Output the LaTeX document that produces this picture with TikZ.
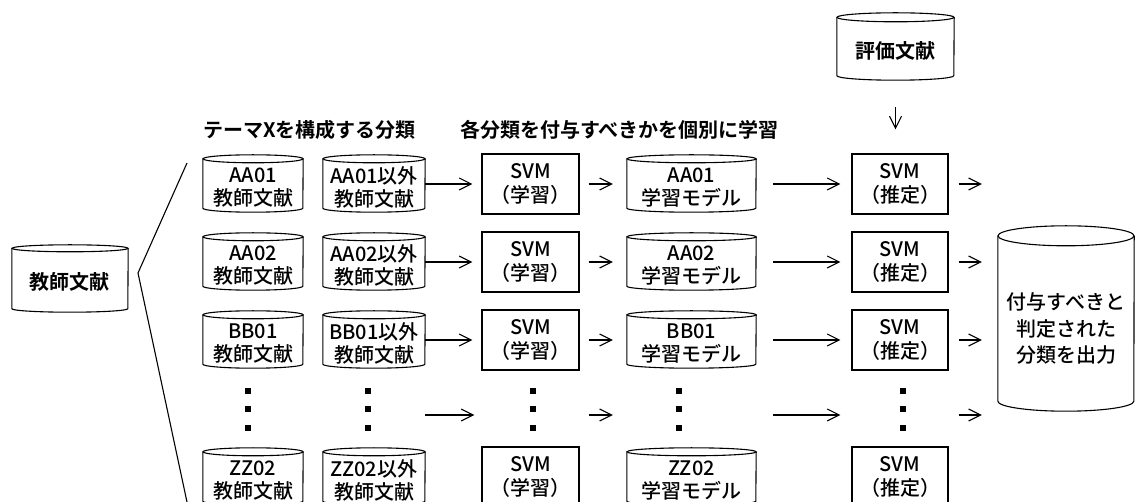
\documentclass[tikz,border=0pt]{standalone}
\usepackage{fontspec}
\setmainfont{Noto Sans CJK JP}[UprightFont=* Medium, BoldFont=* Bold]
\usetikzlibrary{arrows.meta,calc}
\newcommand\cylout[3]{%
  \draw[line width=1.1pt] ([yshift=#3]#1.north west) -- ([yshift=#3]#1.south west)
    arc[start angle=180,end angle=360,x radius=#2,y radius=#3]
    -- ([yshift=#3]#1.north east);
  \draw[line width=1.1pt] ([yshift=#3]#1.north) ellipse[x radius=#2,y radius=#3];
}
\begin{document}
\begin{tikzpicture}[x=1pt,y=-1pt,
  txt/.style={font=\fontsize{20}{23.5}\selectfont, align=center, inner sep=0pt},
  ttl/.style={font=\bfseries\fontsize{20}{23.5}\selectfont, inner sep=0pt, anchor=west},
  box/.style={txt, draw, line width=1.1pt, minimum width=97pt, minimum height=60pt},
  cyl/.style={txt, minimum height=49pt},
  arr/.style={-{Straight Barb[length=12pt,width=12pt]}, line width=1.1pt}]
\useasboundingbox (0,0) rectangle (1136,502);
\clip (0,0) rectangle (1136,502);

% titles
\node[ttl] (t1) at (203,130) {テーマXを構成する分類};
\node[ttl] (t2) at (460,130) {各分類を付与すべきかを個別に学習};

% source and evaluation documents
\node[cyl, minimum width=116pt, minimum height=60pt, font=\bfseries\fontsize{20}{23.5}\selectfont] (src) at (70,282) {教師文献};
\cylout{src}{58pt}{3.5pt}
\node[cyl, minimum width=117pt, minimum height=58pt, font=\bfseries\fontsize{20}{23.5}\selectfont] (eval) at (895.5,51) {評価文献};
\cylout{eval}{58.5pt}{4.5pt}

% bracket
\coordinate (bt) at (187,163);
\coordinate (bv) at (138,273);
\coordinate (bb) at (190,516);
\draw[line width=1.1pt] (bt) -- (bv) -- (bb);

% rows
\foreach \k/\R/\c in {1/184/AA01, 2/262/AA02, 3/340/BB01, 5/477/ZZ02} {
  \node[cyl, minimum width=100pt] (c1-\k) at (253,\R+3.5) {\c\\教師文献};
  \cylout{c1-\k}{50pt}{4pt}
  \node[cyl, minimum width=102pt] (c2-\k) at (374,\R+3.5) {\c 以外\\教師文献};
  \cylout{c2-\k}{51pt}{4pt}
  \node[box] (s-\k) at (530.5,\R) {SVM\\（学習）};
  \node[cyl, minimum width=129pt] (m-\k) at (691.5,\R+3.5) {\c\\学習モデル};
  \cylout{m-\k}{64.5pt}{4pt}
  \node[box, minimum width=96pt] (e-\k) at (900,\R) {SVM\\（推定）};
}

% output
\node[cyl, minimum width=136pt, minimum height=165pt, font=\fontsize{20}{26.5}\selectfont] (out) at (1066,328.5) {付与すべきと\\判定された\\分類を出力};
\cylout{out}{68pt}{10pt}

% arrows in rows
\foreach \k in {1,2,3} {
  \draw[arr, shorten >=9pt] (c2-\k.east |- s-\k.west) -- (s-\k.west);
  \draw[arr, shorten <=9pt, shorten >=14pt] (s-\k.east) -- (m-\k.west |- s-\k.east);
  \draw[arr, shorten <=17pt, shorten >=11pt] (m-\k.east |- e-\k.west) -- (e-\k.west);
  \draw[arr, shorten <=10pt, shorten >=16pt] (e-\k.east) -- (e-\k.east -| out.west);
}
% dots row
\coordinate (dr) at (0,415);
\draw[arr, shorten >=7pt] (c2-1.east |- dr) -- (s-1.west |- dr);
\draw[arr, shorten <=9pt, shorten >=14pt] (s-1.east |- dr) -- (m-1.west |- dr);
\draw[arr, shorten <=17pt, shorten >=11pt] (m-1.east |- dr) -- (e-1.west |- dr);
\draw[arr, shorten <=10pt, shorten >=16pt] (e-1.east |- dr) -- (out.west |- dr);
\foreach \x in {248,368,533,679,903}
  \foreach \y in {391,409,428}
    \fill (\x-2.75,\y-2.75) rectangle ++(5.5,5.5);

% evaluation arrow
\draw[arr, shorten <=27pt, shorten >=24pt] (eval.south) -- (eval.south |- e-1.north);
\end{tikzpicture}
\end{document}
